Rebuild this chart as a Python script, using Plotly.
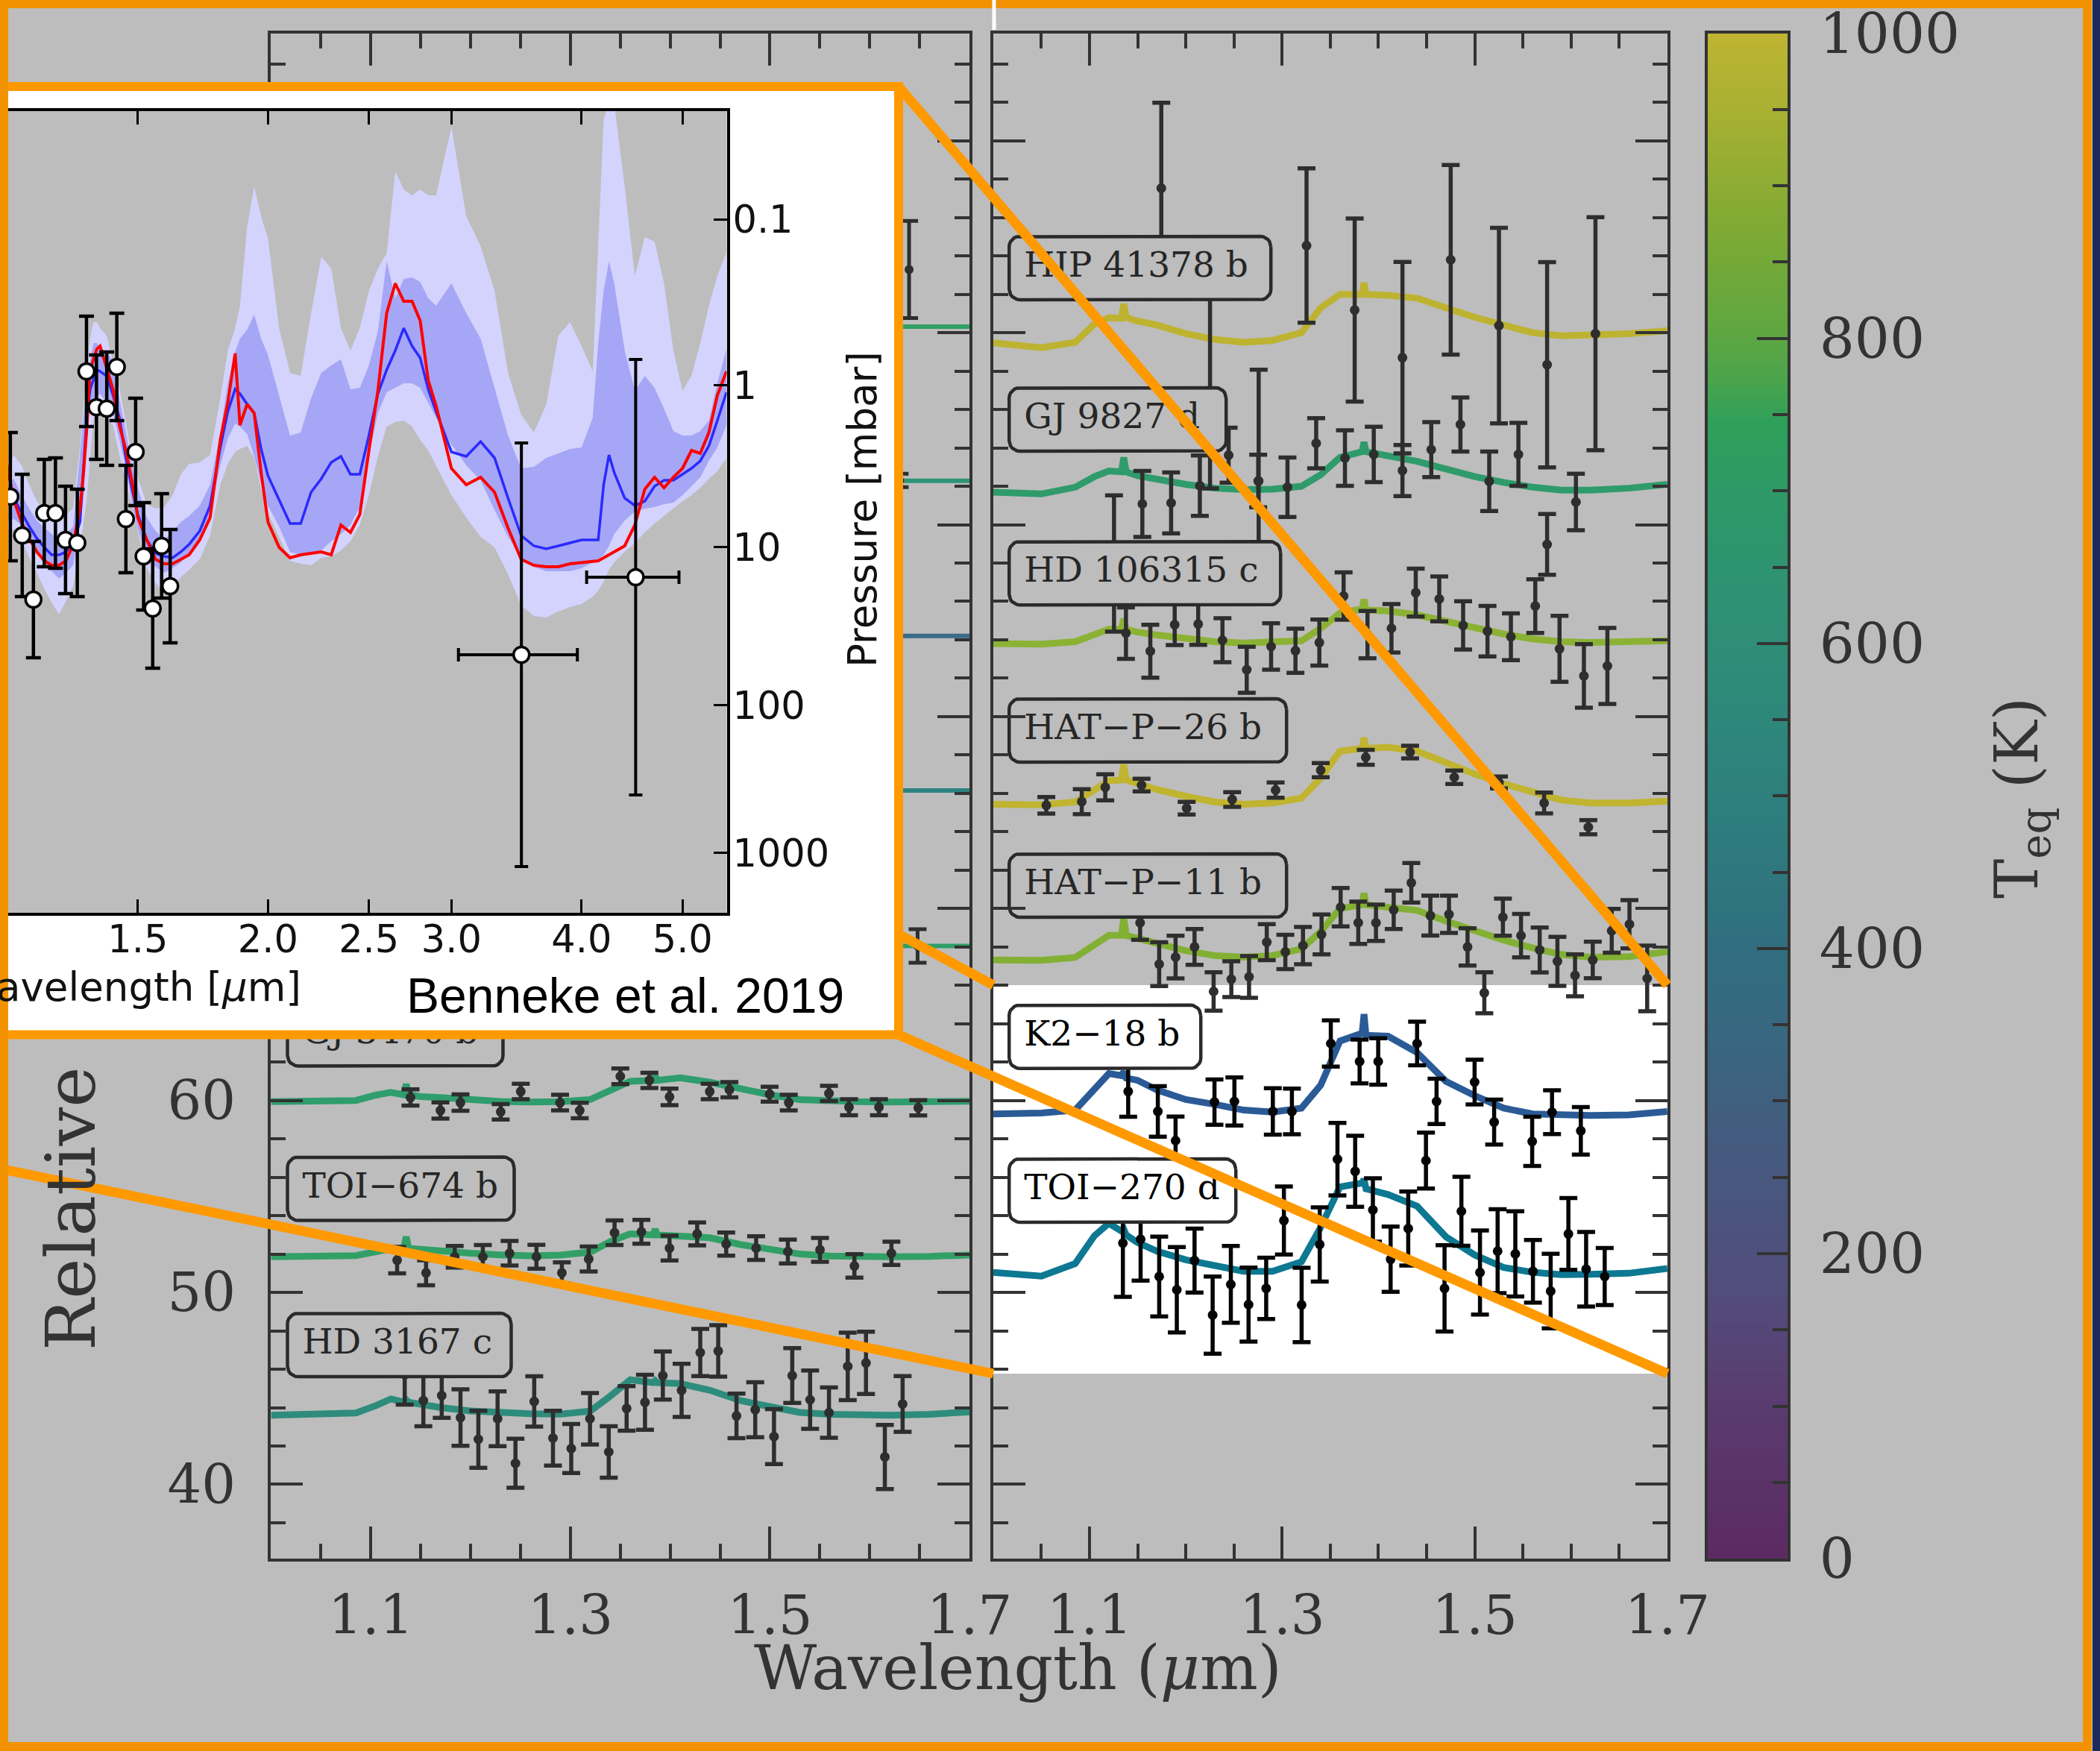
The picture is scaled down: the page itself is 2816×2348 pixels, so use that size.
import math
import numpy as np
import plotly.graph_objects as go

# ---------------------------------------------------------------- data ----
# Main panels: common wavelength grid of the model spectra (micron)
MODEL_WL = [1.00, 1.05, 1.085, 1.105, 1.12, 1.133, 1.1355, 1.138, 1.15, 1.17, 1.20, 1.23, 1.26, 1.29, 1.32,
            1.34, 1.36, 1.383, 1.385, 1.387, 1.41, 1.44, 1.47, 1.50, 1.53, 1.56, 1.59, 1.62, 1.66, 1.70]

# ---- left panel
GJ3470B_MODEL = [59.94, 59.94, 60.0, 60.28, 60.42, 60.3, 60.85, 60.3, 60.2, 60.15, 60.02, 59.95, 59.92, 59.94, 60.05,
                 60.5, 61.0, 61.05, 61.3, 61.05, 61.18, 60.95, 60.6, 60.3, 60.05, 59.97, 59.94, 59.92, 59.93, 59.96]
GJ3470B_WL = [1.1398, 1.1698, 1.1899, 1.2302, 1.2503, 1.2897, 1.3094, 1.3501, 1.3792, 1.3994, 1.4397, 1.4594,
              1.4997, 1.5189, 1.5592, 1.5793, 1.6093, 1.6487]
GJ3470B_VAL = [60.16, 59.48, 59.89, 59.41, 60.47, 59.89, 59.48, 61.26, 61.05, 60.19, 60.47, 60.56, 60.33, 59.89,
               60.37, 59.65, 59.65, 59.62]
GJ3470B_ERR = [0.42, 0.42, 0.43, 0.40, 0.40, 0.41, 0.40, 0.41, 0.40, 0.43, 0.40, 0.40, 0.39, 0.41, 0.40, 0.42, 0.42, 0.40]

TOI674B_MODEL = [51.86, 51.86, 51.92, 52.12, 52.27, 52.3, 52.9, 52.3, 52.24, 52.15, 52.04, 51.96, 51.91, 51.95, 52.1,
                 52.65, 53.05, 53.0, 53.3, 53.0, 52.9, 52.85, 52.5, 52.25, 52.0, 51.9, 51.86, 51.86, 51.88, 51.95]
TOI674B_WL = [1.1264, 1.1554, 1.1841, 1.2123, 1.2391, 1.2660, 1.2915, 1.3184, 1.3443, 1.3712, 1.3994, 1.4271,
              1.4562, 1.4862, 1.5180, 1.5502, 1.5847, 1.6218]
TOI674B_VAL = [51.68, 51.02, 51.86, 51.86, 52.04, 51.86, 51.02, 51.74, 53.11, 53.16, 52.31, 53.05, 52.52, 52.31,
               52.13, 52.22, 51.38, 52.04]
TOI674B_ERR = [0.69, 0.65, 0.56, 0.61, 0.64, 0.62, 0.55, 0.65, 0.64, 0.62, 0.65, 0.60, 0.60, 0.62, 0.62, 0.62, 0.61, 0.61]

HD3167C_MODEL = [43.6, 43.62, 43.72, 44.1, 44.45, 44.3, 44.4, 44.28, 44.15, 44.0, 43.83, 43.72, 43.68, 43.66, 43.82,
                 44.6, 45.45, 45.3, 45.4, 45.3, 45.25, 44.9, 44.37, 44.05, 43.75, 43.65, 43.6, 43.6, 43.65, 43.78]
HD3167C_WL = [1.1340, 1.1527, 1.1711, 1.1899, 1.2078, 1.2271, 1.2450, 1.2638, 1.2826, 1.3009, 1.3197, 1.3385,
              1.3564, 1.3748, 1.3927, 1.4115, 1.4302, 1.4482, 1.4665, 1.4853, 1.5041, 1.5224, 1.5403, 1.5592,
              1.5780, 1.5963, 1.6152, 1.6330]
HD3167C_VAL = [45.71, 44.37, 44.63, 43.48, 42.35, 43.42, 41.10, 44.32, 42.41, 41.87, 43.42, 41.69, 43.96, 44.28,
               45.67, 44.90, 46.87, 46.95, 43.57, 43.89, 42.49, 45.67, 44.41, 43.74, 46.15, 46.33, 41.43, 44.19]
HD3167C_ERR = [1.55, 1.34, 1.16, 1.47, 1.49, 1.43, 1.28, 1.31, 1.43, 1.28, 1.34, 1.34, 1.16, 1.43, 1.25, 1.38,
               1.23, 1.34, 1.16, 1.43, 1.43, 1.43, 1.52, 1.31, 1.76, 1.62, 1.67, 1.45]

# spectra of the left panel that are hidden behind the inset (only their red ends show)
HIDDEN_WL = [1.60, 1.70]
HIDDEN_LEVELS = [100.32, 92.28, 84.20, 76.15, 68.05]
HIDDEN_PT_WL = [1.6395, 1.6300, 1.6480]
HIDDEN_PT_VAL = [103.29, 92.30, 68.05]
HIDDEN_PT_ERR = [2.53, 0.35, 0.87]

# ---- right panel
HIP41378B_MODEL = [99.47, 99.22, 99.5, 100.45, 100.78, 100.75, 101.5, 100.8, 100.6, 100.4, 99.95, 99.65, 99.5, 99.6,
                   100.0, 101.3, 102.0, 102.0, 102.6, 102.0, 101.95, 101.8, 101.3, 100.8, 100.4, 100.0, 99.84,
                   99.85, 99.95, 100.1]
HIP41378B_WL = [1.1745, 1.2251, 1.2756, 1.3253, 1.3753, 1.4249, 1.4750, 1.5251, 1.5751, 1.6253]
HIP41378B_VAL = [107.53, 96.94, 92.27, 104.54, 101.18, 98.70, 103.80, 100.37, 98.33, 99.95]
HIP41378B_ERR = [4.45, 5.05, 5.8, 4.02, 4.77, 4.99, 4.94, 5.09, 5.35, 6.07]

GJ9827D_MODEL = [91.69, 91.6, 91.95, 92.5, 92.8, 92.75, 93.5, 92.75, 92.55, 92.35, 92.1, 91.9, 91.83, 91.85, 92.0,
                 92.6, 93.5, 93.8, 94.3, 93.8, 93.6, 93.3, 92.9, 92.5, 92.2, 91.95, 91.8, 91.8, 91.9, 92.1]
GJ9827D_WL = [1.1254, 1.1548, 1.1847, 1.2145, 1.2444, 1.2751, 1.3055, 1.3353, 1.3652, 1.3951, 1.4249, 1.4548,
              1.4851, 1.5150, 1.5453, 1.5751, 1.6050]
GJ9827D_VAL = [87.98, 91.08, 91.13, 92.03, 93.62, 92.27, 91.95, 94.24, 93.47, 93.66, 92.82, 93.91, 95.22, 92.26,
               93.66, 88.97, 91.18]
GJ9827D_ERR = [3.55, 1.72, 1.59, 1.57, 1.43, 1.37, 1.55, 1.31, 1.45, 1.44, 1.33, 1.43, 1.41, 1.55, 1.64, 1.58, 1.47]

HD106315C_MODEL = [83.8, 83.78, 83.9, 84.3, 84.55, 84.55, 85.1, 84.55, 84.4, 84.25, 84.05, 83.9, 83.83, 83.85, 83.95,
                   84.6, 85.4, 85.6, 86.1, 85.55, 85.5, 85.3, 84.95, 84.6, 84.3, 84.05, 83.9, 83.86, 83.88, 83.95]
HD106315C_WL = [1.1378, 1.1631, 1.1884, 1.2128, 1.2380, 1.2632, 1.2885, 1.3138, 1.3386, 1.3638, 1.3886, 1.4135,
                1.4387, 1.4631, 1.4879, 1.5132, 1.5375, 1.5628, 1.5880, 1.6133, 1.6377]
HD106315C_VAL = [84.35, 83.41, 84.79, 84.82, 83.98, 82.44, 83.65, 83.43, 83.86, 86.28, 84.27, 84.60, 86.46, 86.13,
                 84.75, 84.45, 84.16, 85.76, 83.53, 82.12, 82.64]
HD106315C_ERR = [1.34, 1.38, 1.06, 1.08, 1.15, 1.20, 1.21, 1.15, 1.20, 1.23, 1.23, 1.26, 1.25, 1.17, 1.26, 1.32,
                 1.22, 1.40, 1.72, 1.66, 1.98]

HATP26B_MODEL = [75.43, 75.4, 75.55, 76.2, 76.65, 76.7, 77.5, 76.7, 76.5, 76.2, 75.85, 75.55, 75.43, 75.5, 75.75,
                 76.8, 78.2, 78.35, 78.9, 78.35, 78.4, 78.2, 77.6, 77.0, 76.5, 76.05, 75.65, 75.5, 75.5, 75.6]
HATP26B_WL = [1.0551, 1.0919, 1.1163, 1.1540, 1.2008, 1.2481, 1.2932, 1.3400, 1.3868, 1.4328, 1.4787, 1.5251,
              1.5720, 1.6179]
HATP26B_VAL = [75.38, 75.57, 76.32, 76.43, 75.23, 75.68, 76.17, 77.21, 77.88, 78.15, 76.84, 76.57, 75.50, 74.24]
HATP26B_ERR = [0.43, 0.65, 0.68, 0.33, 0.33, 0.38, 0.40, 0.37, 0.39, 0.33, 0.35, 0.31, 0.54, 0.37]

HATP11B_MODEL = [67.32, 67.3, 67.45, 68.1, 68.6, 68.6, 69.5, 68.6, 68.45, 68.15, 67.8, 67.55, 67.47, 67.55, 67.9,
                 68.8, 70.0, 70.2, 70.8, 70.2, 70.1, 69.9, 69.35, 68.85, 68.35, 67.95, 67.6, 67.47, 67.5, 67.75]
HATP11B_WL = [1.1525, 1.1723, 1.1893, 1.2090, 1.2288, 1.2472, 1.2656, 1.2840, 1.3033, 1.3216, 1.3409, 1.3607,
              1.3790, 1.3974, 1.4158, 1.4341, 1.4539, 1.4732, 1.4925, 1.5099, 1.5292, 1.5480, 1.5674, 1.5858,
              1.6041, 1.6225, 1.6422, 1.6606, 1.6790]
HATP11B_VAL = [69.26, 67.10, 67.47, 68.00, 65.68, 66.32, 66.44, 68.25, 67.74, 68.07, 68.65, 70.07, 69.26, 69.26,
               69.93, 71.34, 69.63, 69.70, 68.00, 65.61, 69.55, 68.59, 67.84, 67.25, 66.52, 67.32, 68.84, 69.18, 66.36]
HATP11B_ERR = [0.89, 1.14, 1.11, 0.93, 1.0, 0.93, 1.09, 0.94, 0.89, 0.97, 1.04, 1.0, 1.1, 0.95, 1.0, 1.03, 1.04,
               0.97, 0.97, 1.07, 0.97, 1.13, 1.17, 1.28, 1.09, 0.95, 1.14, 1.26, 1.71]

K218B_MODEL = [59.3, 59.35, 59.5, 60.6, 61.4, 61.3, 61.5, 61.17, 61.05, 60.55, 60.05, 59.8, 59.5, 59.4, 59.6,
               60.8, 63.1, 63.5, 64.5, 63.4, 63.35, 62.5, 61.0, 60.25, 59.6, 59.3, 59.25, 59.22, 59.25, 59.43]
K218B_WL = [1.1401, 1.1709, 1.1893, 1.2297, 1.2504, 1.2903, 1.3101, 1.3505, 1.3804, 1.3997, 1.4401, 1.4603,
            1.4998, 1.5201, 1.5596, 1.5802, 1.6101]
K218B_VAL = [60.47, 59.43, 57.91, 59.92, 59.95, 59.43, 59.43, 62.97, 62.03, 62.03, 62.97, 59.95, 60.96, 58.88,
             57.87, 59.39, 58.42]
K218B_ERR = [1.32, 1.32, 1.25, 1.18, 1.25, 1.21, 1.19, 1.20, 1.14, 1.21, 1.14, 1.18, 1.17, 1.17, 1.28, 1.14, 1.24]

TOI270D_MODEL = [51.04, 50.85, 51.5, 52.95, 53.6, 53.2, 53.3, 53.0, 52.6, 52.15, 51.7, 51.4, 51.1, 51.1, 51.6,
                 53.4, 55.5, 55.7, 55.9, 55.4, 55.1, 54.5, 52.9, 51.95, 51.3, 51.05, 50.93, 50.95, 51.0, 51.25]
TOI270D_WL = [1.1346, 1.1530, 1.1723, 1.1906, 1.2090, 1.2278, 1.2467, 1.2651, 1.2834, 1.3018, 1.3202, 1.3390,
              1.3574, 1.3758, 1.3942, 1.4126, 1.4309, 1.4493, 1.4686, 1.4861, 1.5054, 1.5237, 1.5421, 1.5604,
              1.5788, 1.5972, 1.6156, 1.6349]
TOI270D_VAL = [52.57, 52.77, 50.83, 50.14, 51.66, 48.82, 50.42, 49.37, 50.21, 53.75, 49.35, 52.50, 56.94, 56.31,
               54.30, 51.73, 53.33, 56.87, 50.21, 54.23, 51.04, 52.15, 52.01, 51.10, 50.07, 53.05, 51.21, 50.83]
TOI270D_ERR = [2.8, 2.15, 2.08, 2.22, 1.67, 2.01, 2.0, 1.93, 1.6, 1.77, 1.94, 1.93, 1.89, 1.85, 1.65, 1.70, 1.93,
               1.46, 2.25, 1.80, 2.19, 2.19, 2.22, 1.63, 1.94, 1.87, 1.94, 1.49]

# ---- inset (Benneke et al. 2019, K2-18 b); depth in ppm
INSET_WL = [1.106, 1.12, 1.14, 1.16, 1.18, 1.20, 1.22, 1.24, 1.26, 1.28,
            1.30, 1.32, 1.33, 1.34, 1.35, 1.36, 1.37, 1.38, 1.40, 1.42,
            1.44, 1.46, 1.48, 1.50, 1.53, 1.56, 1.59, 1.62, 1.65, 1.68,
            1.72, 1.76, 1.80, 1.83, 1.86, 1.88, 1.91, 1.94, 1.97, 2.00,
            2.05, 2.10, 2.15, 2.20, 2.25, 2.30, 2.35, 2.40, 2.45, 2.50,
            2.55, 2.60, 2.65, 2.70, 2.75, 2.80, 2.85, 2.90, 3.00, 3.10,
            3.20, 3.30, 3.40, 3.50, 3.60, 3.70, 3.80, 3.90, 4.00, 4.10,
            4.15, 4.20, 4.25, 4.30, 4.40, 4.50, 4.60, 4.70, 4.80, 4.90,
            5.00, 5.10, 5.20, 5.30, 5.40, 5.51]
INSET_BEST = [2807, 2843, 2815, 2800, 2789, 2780, 2774, 2771, 2771, 2774,
              2785, 2809, 2832, 2863, 2902, 2909, 2916, 2918, 2904, 2889,
              2865, 2849, 2828, 2803, 2788, 2775, 2772, 2772, 2775, 2778,
              2788, 2803, 2855, 2880, 2913, 2865, 2879, 2873, 2833, 2800,
              2783, 2776, 2778, 2779, 2780, 2778, 2798, 2793, 2805, 2848,
              2888, 2940, 2960, 2948, 2948, 2935, 2895, 2878, 2836, 2825,
              2830, 2820, 2796, 2775, 2771, 2770, 2770, 2772, 2773, 2774,
              2774, 2776, 2778, 2780, 2784, 2798, 2822, 2830, 2823, 2830,
              2836, 2848, 2846, 2860, 2885, 2901]
INSET_MEDIAN = [2803, 2818, 2816, 2806, 2797, 2789, 2783, 2778, 2778, 2780,
                2786, 2800, 2835, 2870, 2889, 2895, 2902, 2901, 2898, 2885,
                2870, 2844, 2823, 2805, 2788, 2779, 2777, 2776, 2780, 2785,
                2794, 2811, 2850, 2874, 2889, 2886, 2879, 2873, 2849, 2831,
                2815, 2799, 2799, 2820, 2829, 2840, 2844, 2832, 2832, 2858,
                2886, 2902, 2915, 2930, 2918, 2910, 2889, 2874, 2847, 2844,
                2854, 2843, 2816, 2791, 2784, 2782, 2784, 2786, 2788, 2788,
                2788, 2825, 2845, 2833, 2816, 2811, 2814, 2824, 2828, 2828,
                2832, 2836, 2841, 2851, 2868, 2887]
INSET_1S_HI = [2811, 2823, 2829, 2818, 2809, 2801, 2796, 2792, 2788, 2792,
               2797, 2845, 2870, 2890, 2908, 2920, 2920, 2917, 2914, 2908,
               2883, 2861, 2839, 2823, 2803, 2794, 2788, 2794, 2800, 2804,
               2811, 2825, 2860, 2893, 2914, 2923, 2929, 2939, 2923, 2912,
               2885, 2858, 2860, 2883, 2900, 2905, 2909, 2889, 2890, 2905,
               2928, 2975, 2950, 2963, 2964, 2961, 2950, 2945, 2960, 2940,
               2923, 2890, 2858, 2836, 2837, 2843, 2846, 2849, 2850, 2870,
               2920, 2955, 2975, 2960, 2915, 2888, 2898, 2890, 2876, 2861,
               2858, 2858, 2861, 2868, 2893, 2916]
INSET_1S_LO = [2799, 2800, 2802, 2798, 2788, 2780, 2772, 2767, 2762, 2766,
               2771, 2798, 2815, 2855, 2878, 2881, 2884, 2886, 2880, 2873,
               2855, 2838, 2813, 2795, 2777, 2770, 2766, 2769, 2773, 2779,
               2787, 2806, 2838, 2856, 2866, 2864, 2859, 2844, 2826, 2811,
               2797, 2780, 2778, 2779, 2781, 2787, 2792, 2798, 2810, 2845,
               2873, 2887, 2890, 2893, 2893, 2890, 2880, 2870, 2852, 2838,
               2828, 2808, 2790, 2776, 2770, 2767, 2767, 2767, 2769, 2773,
               2775, 2778, 2784, 2792, 2801, 2807, 2809, 2810, 2812, 2813,
               2818, 2824, 2830, 2841, 2850, 2865]
INSET_2S_HI = [2815, 2831, 2845, 2838, 2825, 2814, 2808, 2804, 2801, 2805,
               2809, 2850, 2875, 2903, 2923, 2934, 2934, 2930, 2925, 2908,
               2890, 2868, 2845, 2830, 2812, 2809, 2810, 2818, 2832, 2839,
               2840, 2845, 2883, 2915, 2930, 2945, 2998, 3025, 3005, 2990,
               2930, 2900, 2898, 2940, 2978, 2970, 2930, 2915, 2930, 2955,
               2970, 2980, 3035, 3023, 3019, 3023, 3019, 3019, 3065, 3005,
               2985, 2955, 2900, 2872, 2860, 2879, 2925, 2934, 2918, 2901,
               2985, 3070, 3080, 3080, 3025, 2965, 2991, 2988, 2960, 2915,
               2888, 2898, 2920, 2945, 2965, 2981]
INSET_2S_LO = [2795, 2795, 2795, 2789, 2776, 2766, 2755, 2746, 2738, 2747,
               2757, 2783, 2798, 2815, 2843, 2870, 2874, 2872, 2869, 2865,
               2845, 2828, 2810, 2794, 2769, 2759, 2753, 2757, 2763, 2768,
               2775, 2791, 2825, 2839, 2847, 2849, 2851, 2843, 2822, 2806,
               2790, 2774, 2772, 2771, 2776, 2777, 2781, 2787, 2798, 2818,
               2844, 2864, 2867, 2868, 2864, 2855, 2848, 2838, 2818, 2803,
               2790, 2783, 2765, 2744, 2737, 2736, 2740, 2743, 2745, 2750,
               2754, 2760, 2768, 2773, 2780, 2786, 2793, 2799, 2804, 2809,
               2814, 2818, 2823, 2829, 2834, 2843]
WFC3_WL = [1.1317, 1.1618, 1.1909, 1.2199, 1.2504, 1.2785, 1.3122, 1.3391, 1.3690, 1.4005, 1.4320, 1.4610,
           1.4928, 1.5194, 1.5502, 1.5810, 1.6112]
WFC3_DEPTH = [2817, 2791, 2748, 2806, 2806, 2788, 2786, 2901, 2877, 2876, 2904, 2802, 2847, 2777, 2742, 2784, 2757]
WFC3_ERR = [43, 41, 39, 36, 37, 36, 36, 37, 35, 38, 36, 36, 36, 36, 40, 35, 38]
SPITZER_WL = [3.502, 4.508]
SPITZER_DEPTH = [2711, 2763]
SPITZER_ERR = [142, 146]
SPITZER_XLO = [0.455, 0.463]
SPITZER_XHI = [0.461, 0.453]
INSET_XTICKS = [1.5, 2.0, 2.5, 3.0, 4.0, 5.0]
INSET_XTICK_TEXT = ["1.5", "2.0", "2.5", "3.0", "4.0", "5.0"]
PRESSURE_TICK_DEPTH = [3003, 2891.5, 2783, 2677, 2578]
PRESSURE_TICK_TEXT = ["0.1", "1", "10", "100", "1000"]

# ------------------------------------------------------------- styles -----
W, H = 2816, 2348
BG = "#bdbdbd"
ORANGE = "#ff9900"
AX = "#333333"
SERIF = "DejaVu Serif"
SANS = "DejaVu Sans"
PT_GRAY = "#2e2e2e"
PT_BLACK = "#050505"

LEFT_X = [0.12905, 0.46165]
RIGHT_X = [0.47298, 0.79400]
PANEL_Y = [0.10984, 0.98100]
CBAR_X = [0.81321, 0.85120]
INSET_BG_X = [0.0, 0.42791]
INSET_BG_Y = [0.40906, 0.95060]
INSET_X = [0.0, 0.34606]
INSET_Y = [0.47871, 0.93654]
WL_RANGE = [1.0, 1.7]
Y_RANGE = [36.13, 115.6]

CSCALE = [[0.0, '#5b2a61'], [0.106, '#5a3c70'], [0.18, '#514e7c'], [0.253, '#47587e'], [0.326, '#3b6480'],
          [0.40, '#306e7f'], [0.472, '#2e7b7e'], [0.546, '#2e877b'], [0.62, '#2e9075'], [0.692, '#2e9868'],
          [0.744, '#2ea05a'], [0.773, '#4aa44c'], [0.802, '#5ea642'], [0.839, '#6fa83a'], [0.876, '#80aa34'],
          [0.912, '#94ad32'], [0.949, '#a8b032'], [1.0, '#bfb432']]

HIDDEN_COLORS = ['#2fa064', '#2e9478', '#3a6a88', '#2d8383', '#2f9f66']

# (name, panel, model, wl, val, err, line colour, point colour)
PLANETS = [
    ("GJ 3470 b", "L", GJ3470B_MODEL, GJ3470B_WL, GJ3470B_VAL, GJ3470B_ERR, '#2f9d6d', PT_GRAY),
    ("TOI−674 b", "L", TOI674B_MODEL, TOI674B_WL, TOI674B_VAL, TOI674B_ERR, '#32a066', PT_GRAY),
    ("HD 3167 c", "L", HD3167C_MODEL, HD3167C_WL, HD3167C_VAL, HD3167C_ERR, '#2e8c7c', PT_GRAY),
    ("HIP 41378 b", "R", HIP41378B_MODEL, HIP41378B_WL, HIP41378B_VAL, HIP41378B_ERR, '#bdb331', PT_GRAY),
    ("GJ 9827 d", "R", GJ9827D_MODEL, GJ9827D_WL, GJ9827D_VAL, GJ9827D_ERR, '#2f9b6b', PT_GRAY),
    ("HD 106315 c", "R", HD106315C_MODEL, HD106315C_WL, HD106315C_VAL, HD106315C_ERR, '#8cb235', PT_GRAY),
    ("HAT−P−26 b", "R", HATP26B_MODEL, HATP26B_WL, HATP26B_VAL, HATP26B_ERR, '#c0b430', PT_GRAY),
    ("HAT−P−11 b", "R", HATP11B_MODEL, HATP11B_WL, HATP11B_VAL, HATP11B_ERR, '#82b034', PT_GRAY),
    ("K2−18 b", "R", K218B_MODEL, K218B_WL, K218B_VAL, K218B_ERR, '#2b5b97', PT_BLACK),
    ("TOI−270 d", "R", TOI270D_MODEL, TOI270D_WL, TOI270D_VAL, TOI270D_ERR, '#0d7892', PT_BLACK),
]
# label boxes: (name, panel, box centre y, box width px, fill)
LABELS = [
    ("GJ 3470 b", "L", 63.45, 289, BG),
    ("TOI−674 b", "L", 55.40, 304, BG),
    ("HD 3167 c", "L", 47.26, 300, BG),
    ("HIP 41378 b", "R", 103.37, 351, BG),
    ("GJ 9827 d", "R", 95.48, 291, BG),
    ("HD 106315 c", "R", 87.47, 364, BG),
    ("HAT−P−26 b", "R", 79.28, 372, BG),
    ("HAT−P−11 b", "R", 71.20, 372, BG),
    ("K2−18 b", "R", 63.32, 257, "white"),
    ("TOI−270 d", "R", 55.31, 304, "white"),
]
LABEL_X = 1.0165
BOX_H, BOX_R, BOX_PAD = 85, 14, 20

AXES = {"L": ("x", "y", LEFT_X), "R": ("x2", "y2", RIGHT_X)}


def px_scale(xdom):
    sx = (xdom[1] - xdom[0]) * W / (WL_RANGE[1] - WL_RANGE[0])
    sy = (PANEL_Y[1] - PANEL_Y[0]) * H / (Y_RANGE[1] - Y_RANGE[0])
    return sx, sy


fig = go.Figure()

# ---- main panels: hidden spectra tails
for lvl, col in zip(HIDDEN_LEVELS, HIDDEN_COLORS):
    fig.add_trace(go.Scatter(x=HIDDEN_WL, y=[lvl, lvl], mode='lines', line=dict(color=col, width=6),
                             xaxis='x', yaxis='y', hoverinfo='skip'))
fig.add_trace(go.Scatter(x=HIDDEN_PT_WL, y=HIDDEN_PT_VAL, mode='markers',
                         marker=dict(color=PT_GRAY, size=12),
                         error_y=dict(type='data', array=HIDDEN_PT_ERR, color=PT_GRAY, thickness=5, width=12),
                         xaxis='x', yaxis='y', hoverinfo='skip'))

# ---- planet models and data
for name, panel, model, wl, val, err, lcol, pcol in PLANETS:
    xa, ya, _ = AXES[panel]
    fig.add_trace(go.Scatter(x=MODEL_WL, y=model, mode='lines', line=dict(color=lcol, width=9),
                             xaxis=xa, yaxis=ya, name=name, hoverinfo='skip'))
for name, panel, model, wl, val, err, lcol, pcol in PLANETS:
    xa, ya, _ = AXES[panel]
    fig.add_trace(go.Scatter(x=wl, y=val, mode='markers', marker=dict(color=pcol, size=13),
                             error_y=dict(type='data', array=err, color=pcol, thickness=5.5, width=12),
                             xaxis=xa, yaxis=ya, name=name, hoverinfo='skip'))

# ---- label boxes (rounded) drawn above data in their own subplot
for name, panel, yc, wpx, fill in LABELS:
    xa, ya, xdom = AXES[panel]
    sx, sy = px_scale(xdom)
    pts = []
    corners = [((wpx - BOX_R, BOX_H / 2 - BOX_R), 0), ((BOX_R, BOX_H / 2 - BOX_R), 90),
               ((BOX_R, -BOX_H / 2 + BOX_R), 180), ((wpx - BOX_R, -BOX_H / 2 + BOX_R), 270)]
    for (cx, cy), a0 in corners:
        for k in range(7):
            a = math.radians(a0 + 15 * k)
            pts.append((cx + BOX_R * math.cos(a), cy + BOX_R * math.sin(a)))
    pts.append(pts[0])
    fig.add_trace(go.Scatter(x=[LABEL_X + p[0] / sx for p in pts], y=[yc + p[1] / sy for p in pts],
                             mode='lines', fill='toself', fillcolor=fill,
                             line=dict(color='#2a2a2a', width=4.5), xaxis=xa, yaxis=ya, hoverinfo='skip'))
    fig.add_trace(go.Scatter(x=[LABEL_X + BOX_PAD / sx], y=[yc], mode='text', text=[name],
                             textposition='middle right',
                             textfont=dict(family=SERIF, size=47, color='#262626' if fill == BG else '#000000'),
                             xaxis=xa, yaxis=ya, hoverinfo='skip'))

# ---- colour bar as heatmap
levels = np.linspace(0, 1000, 401)
fig.add_trace(go.Heatmap(z=[[v] for v in levels], x=[0], y=levels, colorscale=CSCALE, zmin=0, zmax=1000,
                         showscale=False, xaxis='x3', yaxis='y3', hoverinfo='skip'))

# ---- inset white background
fig.add_trace(go.Scatter(x=[0, 1, 1, 0, 0], y=[0, 0, 1, 1, 0], mode='lines', fill='toself',
                         fillcolor='white', line=dict(width=0), xaxis='x4', yaxis='y4', hoverinfo='skip'))

# ---- inset content
fig.add_trace(go.Scatter(x=INSET_WL, y=INSET_2S_LO, mode='lines', line=dict(width=0, color='#d3d3fd'),
                         xaxis='x5', yaxis='y5', hoverinfo='skip'))
fig.add_trace(go.Scatter(x=INSET_WL, y=INSET_2S_HI, mode='lines', line=dict(width=0, color='#d3d3fd'),
                         fill='tonexty', fillcolor='#d3d3fd', xaxis='x5', yaxis='y5', hoverinfo='skip'))
fig.add_trace(go.Scatter(x=INSET_WL, y=INSET_1S_LO, mode='lines', line=dict(width=0, color='#a6a6f6'),
                         xaxis='x5', yaxis='y5', hoverinfo='skip'))
fig.add_trace(go.Scatter(x=INSET_WL, y=INSET_1S_HI, mode='lines', line=dict(width=0, color='#a6a6f6'),
                         fill='tonexty', fillcolor='#a6a6f6', xaxis='x5', yaxis='y5', hoverinfo='skip'))
fig.add_trace(go.Scatter(x=INSET_WL, y=INSET_MEDIAN, mode='lines', line=dict(width=3.5, color='#2a2aff'),
                         xaxis='x5', yaxis='y5', hoverinfo='skip'))
fig.add_trace(go.Scatter(x=INSET_WL, y=INSET_BEST, mode='lines', line=dict(width=4, color='#ff0000'),
                         xaxis='x5', yaxis='y5', hoverinfo='skip'))
fig.add_trace(go.Scatter(x=WFC3_WL, y=WFC3_DEPTH, mode='markers',
                         marker=dict(color='white', size=21, line=dict(color='black', width=3.5)),
                         error_y=dict(type='data', array=WFC3_ERR, color='black', thickness=4.5, width=10),
                         xaxis='x5', yaxis='y5', hoverinfo='skip'))
fig.add_trace(go.Scatter(x=SPITZER_WL, y=SPITZER_DEPTH, mode='markers',
                         marker=dict(color='white', size=21, line=dict(color='black', width=3.5)),
                         error_y=dict(type='data', array=SPITZER_ERR, color='black', thickness=4, width=9),
                         error_x=dict(type='data', array=SPITZER_XHI, arrayminus=SPITZER_XLO, color='black',
                                      thickness=4, width=9),
                         xaxis='x5', yaxis='y5', hoverinfo='skip'))

# ---------------------------------------------------------------- axes ----
tickfont = dict(family=SERIF, size=72, color=AX)


def main_x(dom, anchor):
    return dict(domain=dom, anchor=anchor, range=WL_RANGE, tickmode='linear', tick0=1.1, dtick=0.2,
                ticks='inside', ticklen=43, tickwidth=3.5, tickcolor=AX, showline=True, linewidth=4,
                linecolor=AX, mirror='ticks', showgrid=False, zeroline=False, tickfont=tickfont,
                ticklabelstandoff=11, automargin=False,
                minor=dict(tick0=1.0, dtick=0.05, ticks='inside', ticklen=20, tickwidth=3.5, tickcolor=AX,
                           showgrid=False))


def main_y(anchor, labels):
    return dict(domain=PANEL_Y, anchor=anchor, range=Y_RANGE, tickmode='linear', tick0=0, dtick=10,
                ticks='inside', ticklen=43, tickwidth=3.5, tickcolor=AX, showline=True, linewidth=4,
                linecolor=AX, mirror='ticks', showgrid=False, zeroline=False, tickfont=tickfont,
                showticklabels=labels, ticklabelstandoff=29, automargin=False,
                minor=dict(tick0=0, dtick=2, ticks='inside', ticklen=20, tickwidth=3.5, tickcolor=AX,
                           showgrid=False))


inset_font = dict(family=SANS, size=51, color='#111111')
layout_axes = dict(
    xaxis=main_x(LEFT_X, 'y'), yaxis=main_y('x', True),
    xaxis2=main_x(RIGHT_X, 'y2'), yaxis2=main_y('x2', False),
    xaxis3=dict(domain=CBAR_X, anchor='y3', range=[-0.5, 0.5], showticklabels=False, ticks='',
                showline=True, linewidth=4, linecolor=AX, mirror=True, showgrid=False, zeroline=False,
                automargin=False),
    yaxis3=dict(domain=PANEL_Y, anchor='x3', side='right', range=[0, 1000], tickmode='linear', tick0=0,
                dtick=200, ticks='inside', ticklen=41, tickwidth=3.5, tickcolor=AX, showline=True,
                linewidth=4, linecolor=AX, mirror=True, showgrid=False, zeroline=False,
                tickfont=dict(family=SERIF, size=74, color=AX), ticklabelstandoff=24, automargin=False,
                minor=dict(tick0=0, dtick=50, ticks='inside', ticklen=20, tickwidth=3.5, tickcolor=AX,
                           showgrid=False)),
    xaxis4=dict(domain=INSET_BG_X, anchor='y4', range=[0, 1], visible=False, automargin=False),
    yaxis4=dict(domain=INSET_BG_Y, anchor='x4', range=[0, 1], visible=False, automargin=False),
    xaxis5=dict(domain=INSET_X, anchor='y5', type='log', range=[0.0438, 0.7414], tickmode='array',
                tickvals=INSET_XTICKS, ticktext=INSET_XTICK_TEXT, ticks='inside', ticklen=18, tickwidth=3,
                tickcolor='black', showline=True, linewidth=3.5, linecolor='black', mirror='ticks',
                showgrid=False, zeroline=False, tickfont=inset_font, ticklabelstandoff=-12, automargin=False),
    yaxis5=dict(domain=INSET_Y, anchor='x5', side='right', range=[2538, 3075.5], tickmode='array',
                tickvals=PRESSURE_TICK_DEPTH, ticktext=PRESSURE_TICK_TEXT, ticks='inside', ticklen=18,
                tickwidth=3, tickcolor='black', showline=True, linewidth=3.5, linecolor='black', mirror=False,
                showgrid=False, zeroline=False, tickfont=inset_font, ticklabelstandoff=-6, automargin=False),
)


def P(xpx, ypx):
    return xpx / W, 1 - ypx / H


def seg(a, b, color=ORANGE, width=13):
    (x0, y0), (x1, y1) = P(*a), P(*b)
    return dict(type='line', xref='paper', yref='paper', x0=x0, y0=y0, x1=x1, y1=y1,
                line=dict(color=color, width=width), layer='above')


shapes = [
    dict(type='rect', xref='x2', yref='y2', x0=1.0, x1=1.7, y0=45.77, y1=66.01, fillcolor='white',
         line=dict(width=0), layer='below'),
    dict(type='rect', xref='paper', yref='paper', x0=-0.3, x1=INSET_BG_X[1], y0=INSET_BG_Y[0],
         y1=INSET_BG_Y[1], line=dict(color=ORANGE, width=12), fillcolor='rgba(0,0,0,0)', layer='above'),
    seg((1205, 116), (2236, 1321)),
    seg((1205, 1387.5), (2236, 1842)),
    seg((0, 1567), (1332, 1842)),
    seg((1205, 1252.6), (1332, 1321)),
    dict(type='rect', xref='paper', yref='paper', x0=2806 / W, x1=1.0, y0=0, y1=1, fillcolor='#1c2a5c',
         line=dict(width=0), layer='above'),
    dict(type='rect', xref='paper', yref='paper', x0=5 / W, x1=2799 / W, y0=1 - 2342 / H, y1=1 - 5 / H,
         line=dict(color='#f39200', width=12), fillcolor='rgba(0,0,0,0)', layer='above'),
    seg((1333, 0), (1333, 40), color='white', width=5),
]

annotations = [
    dict(text="Relative", x=95 / W, y=1 - 1621 / H, xref='paper', yref='paper', showarrow=False,
         textangle=-90, font=dict(family=SERIF, size=92, color=AX), xanchor='center', yanchor='middle'),
    dict(text="Wavelength (<i>μ</i>m)", x=1365 / W, y=1 - 2236 / H, xref='paper', yref='paper',
         showarrow=False, font=dict(family=SERIF, size=82, color=AX), xanchor='center', yanchor='middle'),
    dict(text="T<sub>eq</sub> (K)", x=2710 / W, y=1 - 1070 / H, xref='paper', yref='paper', showarrow=False,
         textangle=-90, font=dict(family=SERIF, size=80, color=AX), xanchor='center', yanchor='middle'),
    dict(text="Wavelength [<i>μ</i>m]", x=406 / W, y=1 - 1323 / H, xref='paper', yref='paper',
         showarrow=False, font=dict(family=SANS, size=53, color='#111111'), xanchor='right', yanchor='middle'),
    dict(text="Pressure [mbar]", x=1156 / W, y=1 - 683 / H, xref='paper', yref='paper', showarrow=False,
         textangle=-90, font=dict(family=SANS, size=53, color='#111111'), xanchor='center', yanchor='middle'),
    dict(text="Benneke et al. 2019", x=838 / W, y=1 - 1335 / H, xref='paper', yref='paper', showarrow=False,
         font=dict(family="Liberation Sans", size=66, color='black'), xanchor='center', yanchor='middle'),
]

fig.update_layout(width=W, height=H, autosize=False,
                  margin=dict(l=0, r=0, t=0, b=0, pad=0, autoexpand=False),
                  paper_bgcolor=BG, plot_bgcolor=BG, showlegend=False, hovermode=False,
                  shapes=shapes, annotations=annotations, **layout_axes)

fig.write_html("out.html")
